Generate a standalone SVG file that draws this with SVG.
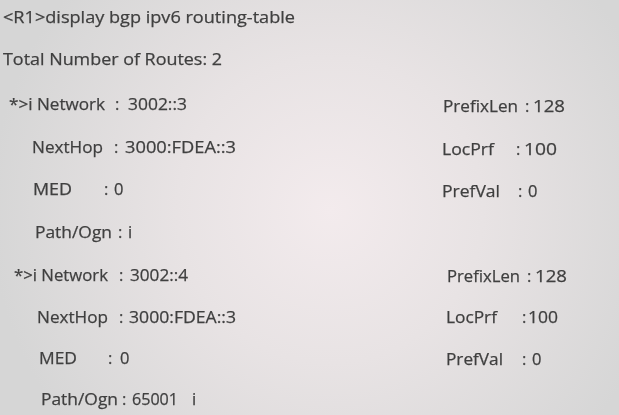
<svg xmlns="http://www.w3.org/2000/svg" width="619" height="415" viewBox="0 0 619 415">
<defs>
<radialGradient id="bg" cx="330" cy="210" r="340" gradientUnits="userSpaceOnUse">
<stop offset="0" stop-color="#f3ebed"/>
<stop offset="0.45" stop-color="#e8e3e4"/>
<stop offset="1" stop-color="#d6d6d6"/>
</radialGradient>
<filter id="soft" x="-5%" y="-20%" width="110%" height="140%"><feGaussianBlur stdDeviation="0.35"/></filter>
</defs>
<style>
text{font-family:"Open Sans","Noto Sans","DejaVu Sans",sans-serif;font-size:16.5px;fill:#3f3f3f;stroke:#3f3f3f;stroke-width:0.25;}
</style>
<rect width="619" height="415" fill="url(#bg)"/>
<g filter="url(#soft)">
<text x="3" y="23" textLength="292" lengthAdjust="spacingAndGlyphs">&lt;R1&gt;display bgp ipv6 routing-table</text>
<text x="3" y="65" textLength="219" lengthAdjust="spacingAndGlyphs">Total Number of Routes: 2</text>

<g id="route1">
<text x="9" y="110" textLength="96" lengthAdjust="spacingAndGlyphs">*&gt;i Network</text>
<text x="115" y="110">:</text>
<text x="128" y="110" textLength="59" lengthAdjust="spacingAndGlyphs">3002::3</text>
<text x="32" y="153" textLength="71" lengthAdjust="spacingAndGlyphs">NextHop</text>
<text x="114" y="153">:</text>
<text x="125" y="153" textLength="111" lengthAdjust="spacingAndGlyphs">3000:FDEA::3</text>
<text x="33" y="195" textLength="39" lengthAdjust="spacingAndGlyphs">MED</text>
<text x="104" y="195">:</text>
<text x="114" y="195">0</text>
<text x="35" y="238" textLength="77" lengthAdjust="spacingAndGlyphs">Path/Ogn</text>
<text x="118" y="238">:</text>
<text x="128" y="238">i</text>
<text x="443" y="112" textLength="75" lengthAdjust="spacingAndGlyphs">PrefixLen</text>
<text x="525" y="112">:</text>
<text x="533" y="112" textLength="32" lengthAdjust="spacingAndGlyphs">128</text>
<text x="442" y="155" textLength="52" lengthAdjust="spacingAndGlyphs">LocPrf</text>
<text x="516" y="155">:</text>
<text x="524" y="155" textLength="33" lengthAdjust="spacingAndGlyphs">100</text>
<text x="442" y="197" textLength="58" lengthAdjust="spacingAndGlyphs">PrefVal</text>
<text x="518" y="197">:</text>
<text x="528" y="197">0</text>
</g>

<g id="route2">
<text x="14" y="281" textLength="94" lengthAdjust="spacingAndGlyphs">*&gt;i Network</text>
<text x="119" y="281">:</text>
<text x="130" y="281" textLength="58" lengthAdjust="spacingAndGlyphs">3002::4</text>
<text x="37" y="323" textLength="71" lengthAdjust="spacingAndGlyphs">NextHop</text>
<text x="119" y="323">:</text>
<text x="129" y="323" textLength="107" lengthAdjust="spacingAndGlyphs">3000:FDEA::3</text>
<text x="39" y="364" textLength="38" lengthAdjust="spacingAndGlyphs">MED</text>
<text x="108" y="364">:</text>
<text x="120" y="364">0</text>
<text x="41" y="405" textLength="77" lengthAdjust="spacingAndGlyphs">Path/Ogn</text>
<text x="122" y="405">:</text>
<text x="132" y="405" textLength="46" lengthAdjust="spacingAndGlyphs">65001</text>
<text x="192" y="405">i</text>
<text x="447" y="282" textLength="73" lengthAdjust="spacingAndGlyphs">PrefixLen</text>
<text x="527" y="282">:</text>
<text x="535" y="282" textLength="32" lengthAdjust="spacingAndGlyphs">128</text>
<text x="446" y="323" textLength="51" lengthAdjust="spacingAndGlyphs">LocPrf</text>
<text x="522" y="323">:</text>
<text x="528" y="323" textLength="30" lengthAdjust="spacingAndGlyphs">100</text>
<text x="446" y="365" textLength="57" lengthAdjust="spacingAndGlyphs">PrefVal</text>
<text x="522" y="365">:</text>
<text x="532" y="365">0</text>
</g>
</g>
</svg>
